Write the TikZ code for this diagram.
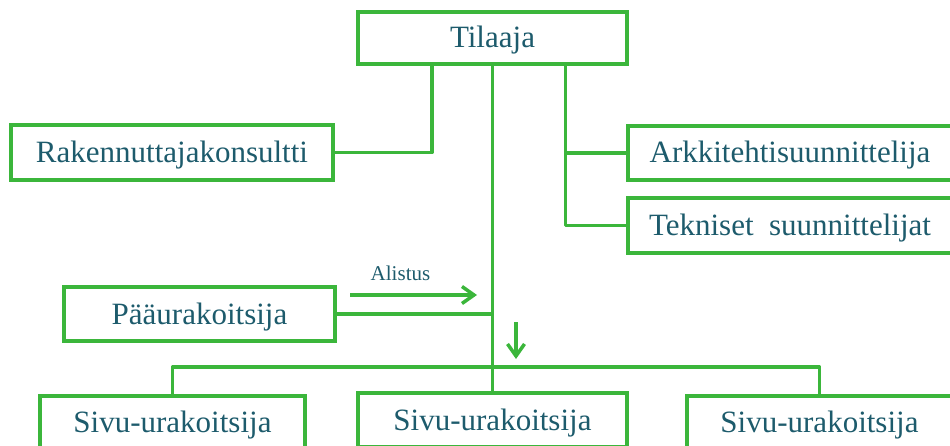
\documentclass[tikz,border=0pt]{standalone}
\usepackage{fontspec}
\setmainfont{Liberation Serif}
\usetikzlibrary{arrows.meta}
\definecolor{orggreen}{HTML}{3BB63B}
\definecolor{orgtext}{HTML}{1D5B6C}
\tikzset{
  orgbox/.style={draw=orggreen, line width=3.5pt, fill=white, rectangle,
    inner sep=0pt, text=orgtext, font=\fontsize{31}{34}\selectfont,
    text height=22pt, text depth=2pt},
  link/.style={draw=orggreen, line width=3.5pt, line join=round},
  flow/.style={link, -{Straight Barb[length=12pt,width=17pt,line join=miter]}},
}
\begin{document}
\begin{tikzpicture}[x=1pt,y=-1pt]
\path[use as bounding box, clip] (0,0) rectangle (950,446);

% junction columns
\coordinate (cl) at (432,0);
\coordinate (cr) at (565.5,0);
\coordinate (bus) at (492.5,367);

% boxes
\node[orgbox, minimum width=269pt, minimum height=52pt] (til) at (492.5,38) {Tilaaja};
\node[orgbox, minimum width=322pt, minimum height=55pt] (rak) at (172,152.5) {Rakennuttajakonsultti};
\node[orgbox, minimum width=324pt, minimum height=54pt] (ark) at (790,153) {Arkkitehtisuunnittelija};
\node[orgbox, minimum width=324pt, minimum height=55pt] (tek) at (790,225.5) {Tekniset\ \ suunnittelijat};
\node[orgbox, minimum width=271pt, minimum height=54pt] (paa) at (199.5,314) {Pääurakoitsija};
\node[orgbox, minimum width=265pt, minimum height=52pt] (s1) at (172.5,422) {Sivu-urakoitsija};
\node[orgbox, minimum width=269pt, minimum height=54pt] (s2) at (492.5,420) {Sivu-urakoitsija};
\node[orgbox, minimum width=265pt, minimum height=52pt] (s3) at (819.5,422) {Sivu-urakoitsija};

% connectors
\draw[link] (til.south -| cl) |- (rak.east);
\draw[link] (til.south -| cr) |- (tek.west);
\draw[link] (ark.west) -- (ark.west -| cr);
\draw[link] (til.south) -- (s2.north);
\draw[link] (paa.east) -- (paa.east -| til.south);
\draw[link] (s1.north) |- (bus) -| (s3.north);

% subordination arrows
\coordinate (al1) at (350,295);
\coordinate (al2) at (477,295);
\draw[flow] (al1) -- (al2);
\node[anchor=base, text=orgtext, font=\fontsize{21}{24}\selectfont] (alistus) at (400.5,280) {Alistus};
\coordinate (dn1) at (516,322);
\coordinate (dn2) at (516,359);
\draw[flow] (dn1) -- (dn2);
\end{tikzpicture}
\end{document}
